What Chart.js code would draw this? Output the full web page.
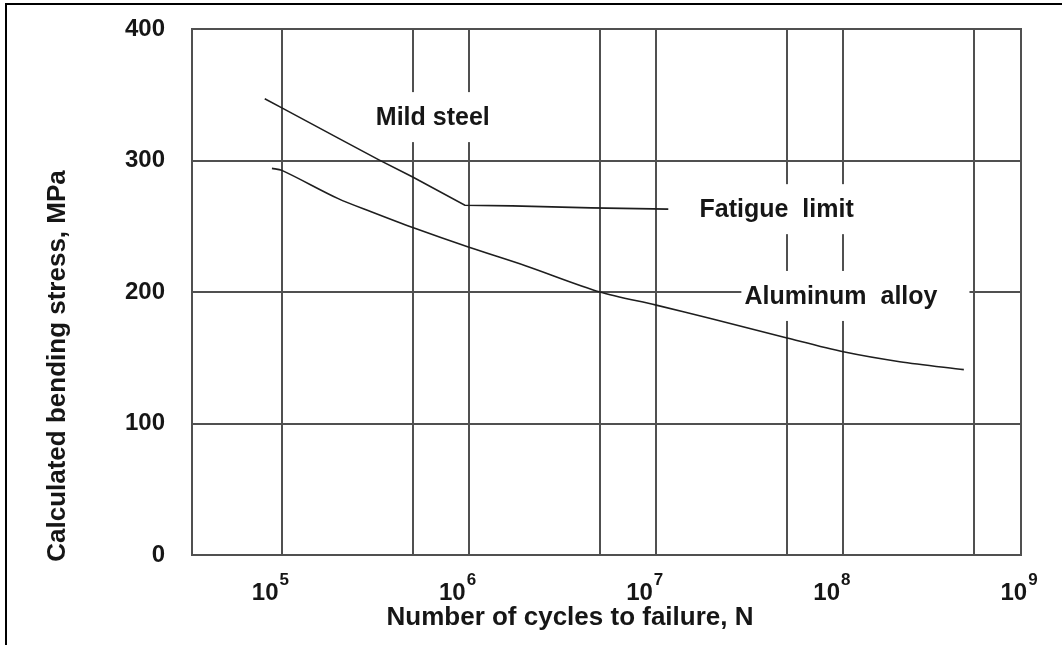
<!DOCTYPE html>
<html>
<head>
<meta charset="utf-8">
<script src="https://cdn.jsdelivr.net/npm/chart.js@4/dist/chart.umd.min.js"></script>
<style>
  html, body { margin: 0; padding: 0; background: #fff; }
  #wrap { width: 1062px; height: 645px; position: relative; }
</style>
</head>
<body>
<div id="wrap"><canvas id="snChart"></canvas></div>
<script>
// S-N curves (cycles N, stress MPa)
const mildSteelN = [8.1e4, 1e5, 2e5, 3.3e5, 5e5, 9.5e5, 1.7e6, 4.5e6, 1.16e7];
const mildSteelStress = [347, 340, 317, 300.5, 287.5, 266, 265.5, 264, 263];

const aluminumN = [8.85e4, 1e5, 2e5, 3e5, 5e5, 1e6, 2e6, 5e6, 1e7, 2e7, 5e7, 1e8, 2e8, 4.4e8];
const aluminumStress = [294, 292.5, 271, 261, 249, 234, 220, 200, 190, 179.5, 165, 154.5, 147, 141];

// axis ticks
const xGridValues = [1e5, 5e5, 1e6, 5e6, 1e7, 5e7, 1e8, 5e8];
const xDecades = [5, 6, 7, 8, 9];
const yTickValues = [0, 100, 200, 300, 400];

// titles and in-plot labels
const xTitle = 'Number of cycles to failure, N';
const yTitle = 'Calculated bending stress, MPa';
const labelTexts = ['Mild steel', 'Fatigue  limit', 'Aluminum  alloy'];
const labelN = [6.4e5, 4.4e7, 9.7e7];
const labelStress = [333, 263, 197];

const FONT = '"Liberation Sans", Arial, sans-serif';
const INK = '#161616';
const GRID = '#505050';

const toPoints = (xs, ys) => xs.map((x, i) => ({ x: x, y: ys[i] }));

// draws frame, x tick labels, titles and the boxed labels
const decorPlugin = {
    id: 'decor',
    afterDraw(chart) {
        const ctx = chart.ctx;
        const area = chart.chartArea;
        const xs = chart.scales.x;
        const ys = chart.scales.y;
        ctx.save();

        // plot frame
        ctx.strokeStyle = GRID;
        ctx.lineWidth = 2;
        ctx.strokeRect(area.left, area.top, area.right - area.left, area.bottom - area.top);

        // outer image border (top + left only)
        ctx.strokeStyle = '#000';
        ctx.lineWidth = 2;
        ctx.beginPath();
        ctx.moveTo(6, 645);
        ctx.lineTo(6, 4);
        ctx.lineTo(1062, 4);
        ctx.stroke();

        // x tick labels 10^k
        ctx.fillStyle = INK;
        ctx.textBaseline = 'alphabetic';
        xDecades.forEach(k => {
            const px = xs.getPixelForValue(Math.pow(10, k)) - 12;
            ctx.font = 'bold 24px ' + FONT;
            const wBase = ctx.measureText('10').width;
            ctx.font = 'bold 17px ' + FONT;
            const wExp = ctx.measureText(String(k)).width;
            const left = px - (wBase + wExp) / 2;
            ctx.font = 'bold 24px ' + FONT;
            ctx.textAlign = 'left';
            ctx.fillText('10', left, 600);
            ctx.font = 'bold 17px ' + FONT;
            ctx.fillText(String(k), left + wBase + 1, 585);
        });

        // axis titles
        ctx.font = 'bold 26px ' + FONT;
        ctx.textAlign = 'center';
        ctx.textBaseline = 'middle';
        ctx.fillText(xTitle, 570, 618);
        ctx.save();
        ctx.translate(58, 366);
        ctx.rotate(-Math.PI / 2);
        ctx.fillText(yTitle, 0, 0);
        ctx.restore();

        // boxed labels (white background breaks the grid)
        const padRight = [4, 4, 32];
        ctx.font = 'bold 25px ' + FONT;
        labelTexts.forEach((t, i) => {
            const cx = xs.getPixelForValue(labelN[i]);
            const cy = ys.getPixelForValue(labelStress[i]);
            const w = ctx.measureText(t).width;
            ctx.fillStyle = '#fff';
            ctx.fillRect(cx - w / 2 - 3, cy - 25, w + 3 + padRight[i], 50);
            ctx.fillStyle = INK;
            ctx.textAlign = 'center';
            ctx.textBaseline = 'middle';
            ctx.fillText(t, cx, cy + 1);
        });

        ctx.restore();
    }
};

new Chart(document.getElementById('snChart'), {
    type: 'line',
    data: {
        datasets: [
            {
                label: 'Mild steel',
                data: toPoints(mildSteelN, mildSteelStress),
                borderColor: '#1e1e1e',
                borderWidth: 1.6,
                pointRadius: 0,
                tension: 0,
                fill: false
            },
            {
                label: 'Aluminum alloy',
                data: toPoints(aluminumN, aluminumStress),
                borderColor: '#1e1e1e',
                borderWidth: 1.6,
                pointRadius: 0,
                tension: 0.3,
                fill: false
            }
        ]
    },
    options: {
        responsive: true,
        maintainAspectRatio: false,
        animation: false,
        layout: { padding: { left: 42, top: 29, right: 41, bottom: 90 } },
        plugins: {
            legend: { display: false },
            tooltip: { enabled: false }
        },
        scales: {
            x: {
                type: 'logarithmic',
                min: 3.31e4,
                max: 8.89e8,
                afterBuildTicks: scale => {
                    scale.ticks = xGridValues.map(v => ({ value: v }));
                },
                afterFit: scale => { scale.height = 0; },
                ticks: { display: false },
                grid: { color: GRID, lineWidth: 2, drawTicks: false },
                border: { color: GRID, width: 2 }
            },
            y: {
                min: 0,
                max: 400,
                afterBuildTicks: scale => {
                    scale.ticks = yTickValues.map(v => ({ value: v }));
                },
                afterFit: scale => {
                    scale.width = 150;
                    // tick padding is horizontal here, don't let it push the plot down
                    scale.paddingTop = 0;
                    scale.paddingBottom = 0;
                },
                ticks: {
                    color: INK,
                    padding: 27,
                    font: { family: FONT, size: 24, weight: 'bold' }
                },
                grid: { color: GRID, lineWidth: 2, drawTicks: false },
                border: { color: GRID, width: 2 }
            }
        }
    },
    plugins: [decorPlugin]
});
</script>
</body>
</html>
